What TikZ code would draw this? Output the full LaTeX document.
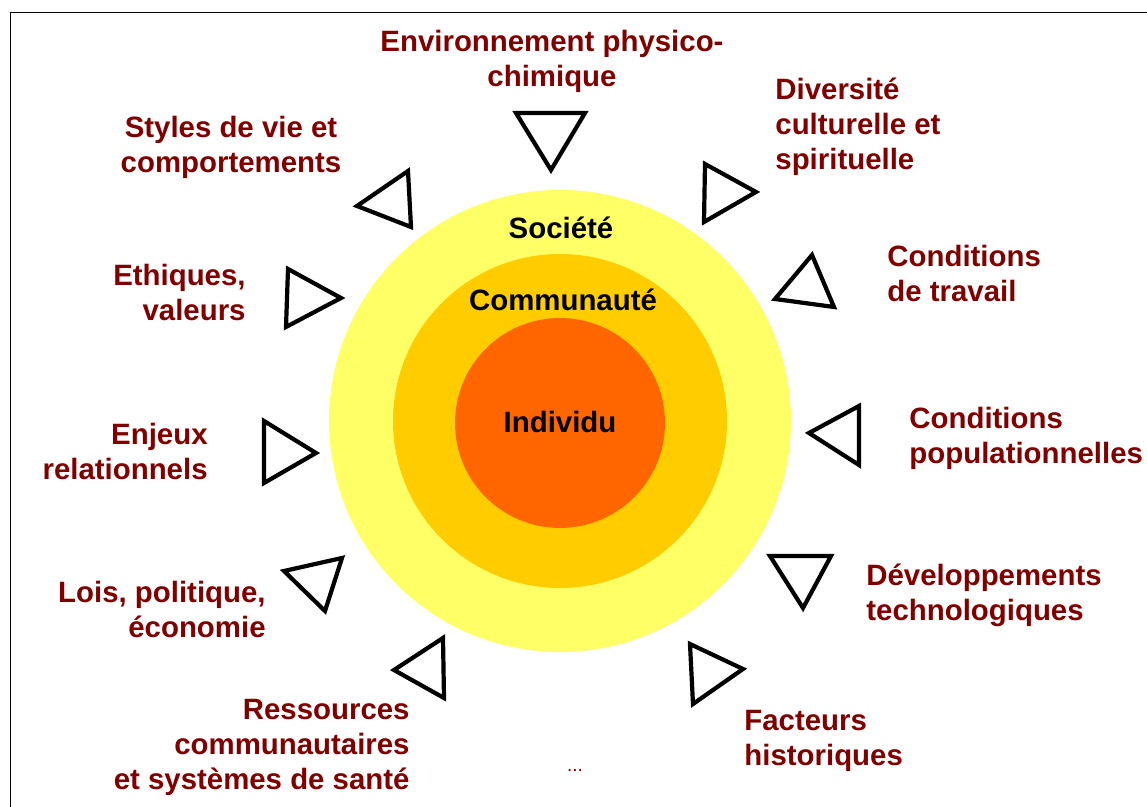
\documentclass[tikz,border=0pt]{standalone}
\usepackage{fontspec}
\setmainfont{Liberation Sans}
\definecolor{facteur}{HTML}{800000}
\definecolor{societe}{HTML}{FFFF66}
\definecolor{communaute}{HTML}{FFCC00}
\definecolor{individu}{HTML}{FF6600}
\begin{document}
\begin{tikzpicture}[x=0.5pt, y=-0.5pt,
    lbl/.style={text=facteur, font=\bfseries\fontsize{14.7}{17.5}\selectfont, inner sep=0pt},
    niveau/.style={text=black, font=\bfseries\fontsize{14.7}{17.5}\selectfont, inner sep=0pt},
    disque/.style={circle, inner sep=0pt},
    tri/.style={draw=black, line width=2.1pt, line join=miter}]
    \useasboundingbox (0,0) rectangle (1147,807);
    % frame (cut at right and bottom)
    \draw[line width=0.5pt] (10,807) -- (10,13) -- (1147,13);
    % nested levels
    \node[disque, fill=societe, minimum size=231pt] (soc) at (560,421) {};
    \node[disque, fill=communaute, minimum size=167pt] (com) at (560,421) {};
    \node[disque, fill=individu, minimum size=105pt] (ind) at (560,423) {};
    \node[niveau] (tsoc) at (561,228) {Société};
    \node[niveau] (tcom) at (563,300) {Communauté};
    \node[niveau] (tind) at (560,422) {Individu};
    % triangles pointing to the circles
    \draw[tri] (516,113) -- (585,113) -- (551,170) -- cycle;
    \draw[tri] (705,164) -- (756,192) -- (704,222) -- cycle;
    \draw[tri] (812,255) -- (834,307) -- (775,299) -- cycle;
    \draw[tri] (859,406) -- (859,465) -- (809,433) -- cycle;
    \draw[tri] (770,556) -- (831,556) -- (803,608) -- cycle;
    \draw[tri] (690,644) -- (743,669) -- (693,704) -- cycle;
    \draw[tri] (443,638) -- (444,698) -- (394,670) -- cycle;
    \draw[tri] (284,571) -- (342,558) -- (325,611) -- cycle;
    \draw[tri] (264,421) -- (316,453) -- (264,483) -- cycle;
    \draw[tri] (288,269) -- (341,298) -- (286,327) -- cycle;
    \draw[tri] (408,171) -- (411,227) -- (357,206) -- cycle;
    % factors
    \node[lbl, align=center] (env) at (552,61) {Environnement physico-\\chimique};
    \node[lbl, align=left, anchor=west] (div) at (775,127) {Diversité\\culturelle et\\spirituelle};
    \node[lbl, align=left, anchor=west] (trav) at (887,273) {Conditions\\de travail};
    \node[lbl, align=left, anchor=west] (pop) at (909,438) {Conditions\\populationnelles};
    \node[lbl, align=left, anchor=west] (tech) at (866,595) {Développements\\technologiques};
    \node[lbl, align=left, anchor=west] (hist) at (744,741) {Facteurs\\historiques};
    \node[text=facteur, font=\fontsize{9.5}{10}\selectfont, inner sep=0pt] (etc) at (575,770) {...};
    \node[lbl, align=right, anchor=east] (res) at (410,747) {Ressources\\communautaires\\et systèmes de santé};
    \node[lbl, align=right, anchor=east] (lois) at (266,609) {Lois, politique,\\économie};
    \node[lbl, align=right, anchor=east] (enj) at (208,451) {Enjeux\\relationnels};
    \node[lbl, align=right, anchor=east] (eth) at (246,292) {Ethiques,\\valeurs};
    \node[lbl, align=center] (vie) at (231,147) {Styles de vie et\\comportements};
\end{tikzpicture}
\end{document}
